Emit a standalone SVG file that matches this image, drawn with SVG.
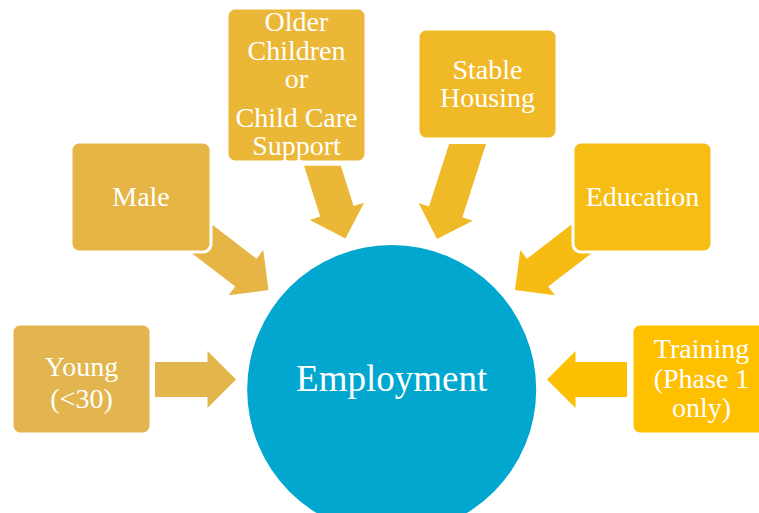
<svg xmlns="http://www.w3.org/2000/svg" width="759" height="513" viewBox="0 0 759 513">
  <style>
    .box { stroke: #ffffff; stroke-width: 3; }
    .lbl { font-family: "Liberation Serif", "Times New Roman", serif; font-size: 28px; fill: #ffffff; text-anchor: middle; }
    .hub { font-family: "Liberation Serif", "Times New Roman", serif; font-size: 37px; fill: #ffffff; text-anchor: middle; }
  </style>
  <rect width="759" height="513" fill="#ffffff"/>

  <!-- block arrows; rotated paths point along +x with the tip at the origin -->
  <g id="connectors">
    <path fill="#E3B54D" transform="translate(236,379.5)" d="M0,0 L-28.5,-28.5 L-28.5,-17.5 L-81,-17.5 L-81,17.5 L-28.5,17.5 L-28.5,28.5 Z"/>
    <path fill="#E6B545" transform="translate(268.5,290) rotate(37.5)" d="M0,0 L-28.5,-28.5 L-28.5,-17.5 L-92,-17.5 L-92,17.5 L-28.5,17.5 L-28.5,28.5 Z"/>
    <!-- the two upper arrows have their tails cut level under the boxes -->
    <polygon fill="#EBB736" points="345.5,238.5 364.1,202.7 353.6,206.0 340.8,165.7 304.1,165.7 320.2,216.6 309.7,219.9"/>
    <polygon fill="#F0B928" points="437,239 418.6,203.1 429.0,206.5 449.1,144 486.0,144 462.4,217.3 472.8,220.7"/>
    <path fill="#F7BC14" transform="translate(515,290) rotate(142.5)" d="M0,0 L-28.5,-28.5 L-28.5,-17.5 L-92,-17.5 L-92,17.5 L-28.5,17.5 L-28.5,28.5 Z"/>
    <path fill="#FDBF02" transform="translate(547,379.5) rotate(180)" d="M0,0 L-28.5,-28.5 L-28.5,-17.5 L-80,-17.5 L-80,17.5 L-28.5,17.5 L-28.5,28.5 Z"/>
  </g>

  <g id="employment">
    <circle cx="391.7" cy="389.5" r="144.5" fill="#01A7CE"/>
    <text class="hub" x="391.7" y="391">Employment</text>
  </g>

  <g id="young">
    <rect class="box" x="12" y="324" width="139" height="110" rx="8" fill="#E3B54E"/>
    <text class="lbl" x="81.5" y="376">Young</text>
    <text class="lbl" x="81.5" y="408">(&lt;30)</text>
  </g>

  <g id="male">
    <rect class="box" x="71" y="142" width="140" height="110" rx="8" fill="#E5B546"/>
    <text class="lbl" x="141" y="206">Male</text>
  </g>

  <g id="children">
    <rect class="box" x="227" y="8" width="139" height="154" rx="8" fill="#EAB737"/>
    <text class="lbl" x="296.5" y="31">Older</text>
    <text class="lbl" x="296.5" y="60">Children</text>
    <text class="lbl" x="296.5" y="88">or</text>
    <text class="lbl" x="296.5" y="127">Child Care</text>
    <text class="lbl" x="296.5" y="155">Support</text>
  </g>

  <g id="housing">
    <rect class="box" x="418" y="29" width="139" height="110" rx="8" fill="#F0B927"/>
    <text class="lbl" x="487.5" y="79">Stable</text>
    <text class="lbl" x="487.5" y="107">Housing</text>
  </g>

  <g id="education">
    <rect class="box" x="573" y="142" width="139" height="110" rx="8" fill="#F6BD14"/>
    <text class="lbl" x="642.5" y="206">Education</text>
  </g>

  <g id="training">
    <rect class="box" x="632" y="324" width="139" height="110" rx="8" fill="#FFC000"/>
    <text class="lbl" x="701.5" y="358">Training</text>
    <text class="lbl" x="701.5" y="388">(Phase 1</text>
    <text class="lbl" x="701.5" y="417">only)</text>
  </g>
</svg>
